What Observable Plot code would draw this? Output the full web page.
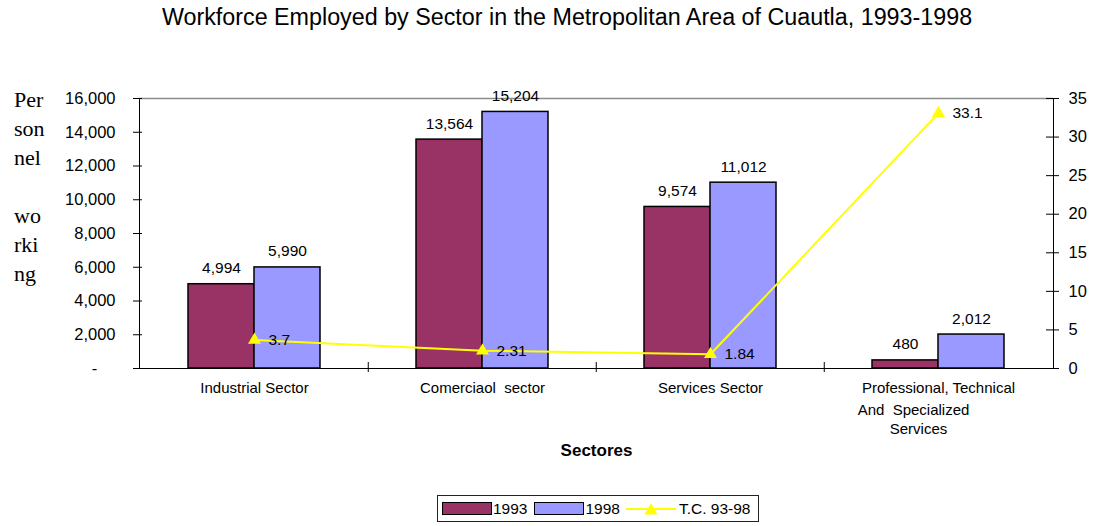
<!DOCTYPE html>
<html>
<head>
<meta charset="utf-8">
<script src="https://cdn.jsdelivr.net/npm/d3@7"></script>
<script src="https://cdn.jsdelivr.net/npm/@observablehq/plot@0.6"></script>
<style>
  html, body { margin: 0; padding: 0; background: #fff; }
  #wrap { position: relative; width: 1101px; height: 526px; overflow: hidden; font-family: Arial, "Liberation Sans", sans-serif; }
  #title { position: absolute; left: 0; top: 4px; width: 1134px; text-align: center; font-size: 23.3px; color: #000; white-space: nowrap; }
  #ylabel { position: absolute; left: 14px; top: 85px; font-family: "Liberation Serif", "Times New Roman", serif; font-size: 22px; line-height: 29px; color: #000; white-space: pre; }
  #chart { position: absolute; left: 0; top: 0; }
  #chart svg text { white-space: pre; }
  #legend { position: absolute; left: 437px; top: 495px; width: 322px; height: 27px; border: 1px solid #222; box-sizing: border-box; display: flex; align-items: center; font-size: 15.5px; color: #000; }
  .sw { display: inline-block; width: 50px; height: 13px; box-sizing: border-box; border: 1.5px solid #000; }
</style>
</head>
<body>
<div id="wrap">
  <div id="title"></div>
  <div id="chart"></div>
  <div id="ylabel"></div>
  <div id="legend"></div>
</div>
<script>
// ---- Data ----
const titleText = "Workforce Employed by Sector in the Metropolitan Area of Cuautla, 1993-1998";
const yLabelLines = ["Per", "son", "nel", "", "wo", "rki", "ng"];
const xTitle = "Sectores";
const sectors = ["Industrial Sector", "Comerciaol  sector", "Services Sector", "Professional, Technical"];
const values1993 = [4994, 13564, 9574, 480];
const values1998 = [5990, 15204, 11012, 2012];
const growth = [3.7, 2.31, 1.84, 33.1];
const extraLine1 = ["", "", "", "And  Specialized"];
const extraLine2 = ["", "", "", "Services"];
const leftTicks = [0, 2000, 4000, 6000, 8000, 10000, 12000, 14000, 16000];
const rightTicks = [0, 5, 10, 15, 20, 25, 30, 35];
const seriesNames = ["1993", "1998", "T.C. 93-98"];
const colors = ["#993366", "#9999ff", "#ffff00"];

const leftMax = 16000, rightMax = 35;
const k = leftMax / rightMax;

const rows = sectors.map((s, i) => ({
  sector: s, v93: values1993[i], v98: values1998[i], tc: growth[i],
  l1: extraLine1[i], l2: extraLine2[i]
}));

const fmt = d3.format(",");

document.getElementById("title").textContent = titleText;
document.getElementById("ylabel").textContent = yLabelLines.join("\n");

const chart = Plot.plot({
  width: 1101,
  height: 480,
  marginTop: 98,
  marginBottom: 112,
  marginLeft: 139,
  marginRight: 48,
  style: { fontFamily: "Arial, 'Liberation Sans', sans-serif", fontSize: "15px", color: "#000", background: "transparent", overflow: "visible" },
  x: { domain: sectors, paddingInner: 0.422, paddingOuter: 0.211, axis: null },
  y: { domain: [0, leftMax], axis: null },
  marks: [
    Plot.barY(rows, { x: "sector", y: "v93", fill: colors[0], stroke: "#000", strokeWidth: 1.5, insetRight: 66 }),
    Plot.barY(rows, { x: "sector", y: "v98", fill: colors[1], stroke: "#000", strokeWidth: 1.5, insetLeft: 66 }),
    Plot.frame({ stroke: "#000", strokeWidth: 1 }),
    Plot.ruleY([leftMax], { stroke: "#8c8c8c", strokeWidth: 1.5 }),
    Plot.text(rows, { x: "sector", y: "v93", text: d => fmt(d.v93), dx: -33, dy: -16, fontSize: 15.5 }),
    Plot.text(rows, { x: "sector", y: "v98", text: d => fmt(d.v98), dx: 33, dy: -16, fontSize: 15.5 }),
    Plot.line(rows, { x: "sector", y: d => d.tc * k, stroke: colors[2], strokeWidth: 2 }),
    Plot.dot(rows, { x: "sector", y: d => d.tc * k, symbol: "triangle", r: 4.8, fill: colors[2], stroke: null }),
    Plot.text(rows, { x: "sector", y: d => d.tc * k, text: d => String(d.tc), textAnchor: "start", dx: 14, fontSize: 15.5 }),
    // category separator ticks on the x axis
    Plot.ruleX(sectors.slice(1), { x: d => d, y1: 0, y2: 0, dx: -114.25, insetTop: -6, insetBottom: -4, stroke: "#000" }),
    // x category labels
    Plot.text(rows, { x: "sector", y: 0, text: "sector", dy: 20, fontSize: 15 }),
    Plot.text(rows, { x: "sector", y: 0, text: "l1", dy: 42, dx: -25, fontSize: 15 }),
    Plot.text(rows, { x: "sector", y: 0, text: "l2", dy: 61, dx: -20, fontSize: 15 }),
    Plot.text([xTitle], { frameAnchor: "bottom", dy: 87, fontWeight: "bold", fontSize: 17 }),
    // left axis
    Plot.axisY({ ticks: leftTicks, tickSize: 9, dx: 3, tickPadding: 18, fontSize: 16.5,
      tickFormat: d => d === 0 ? "-    " : fmt(d) }),
    // right axis (growth rate)
    Plot.axisY({ anchor: "right", ticks: rightTicks.map(v => v * k), tickSize: 13, dx: -8, tickPadding: 10, fontSize: 16.5,
      tickFormat: d => String(Math.round(d / k)) })
  ]
});
document.getElementById("chart").appendChild(chart);

// legend
const legend = document.getElementById("legend");
const items = [
  { type: "bar", color: colors[0], label: seriesNames[0], ml: 4 },
  { type: "bar", color: colors[1], label: seriesNames[1], ml: 7 },
  { type: "line", color: colors[2], label: seriesNames[2], ml: 6 }
];
for (const it of items) {
  let sw;
  if (it.type === "bar") {
    sw = document.createElement("span");
    sw.className = "sw";
    sw.style.background = it.color;
  } else {
    sw = document.createElementNS("http://www.w3.org/2000/svg", "svg");
    sw.setAttribute("width", 50);
    sw.setAttribute("height", 14);
    sw.innerHTML = `<line x1="0" x2="50" y1="7" y2="7" stroke="${it.color}" stroke-width="2"/>` +
      `<path d="M25,1 L31.5,12.5 L18.5,12.5 Z" fill="${it.color}"/>`;
  }
  sw.style.marginLeft = it.ml + "px";
  sw.style.flex = "none";
  legend.appendChild(sw);
  const t = document.createElement("span");
  t.textContent = it.label;
  t.style.marginLeft = (it.type === "line" ? 3 : 1) + "px";
  legend.appendChild(t);
}
</script>
</body>
</html>
